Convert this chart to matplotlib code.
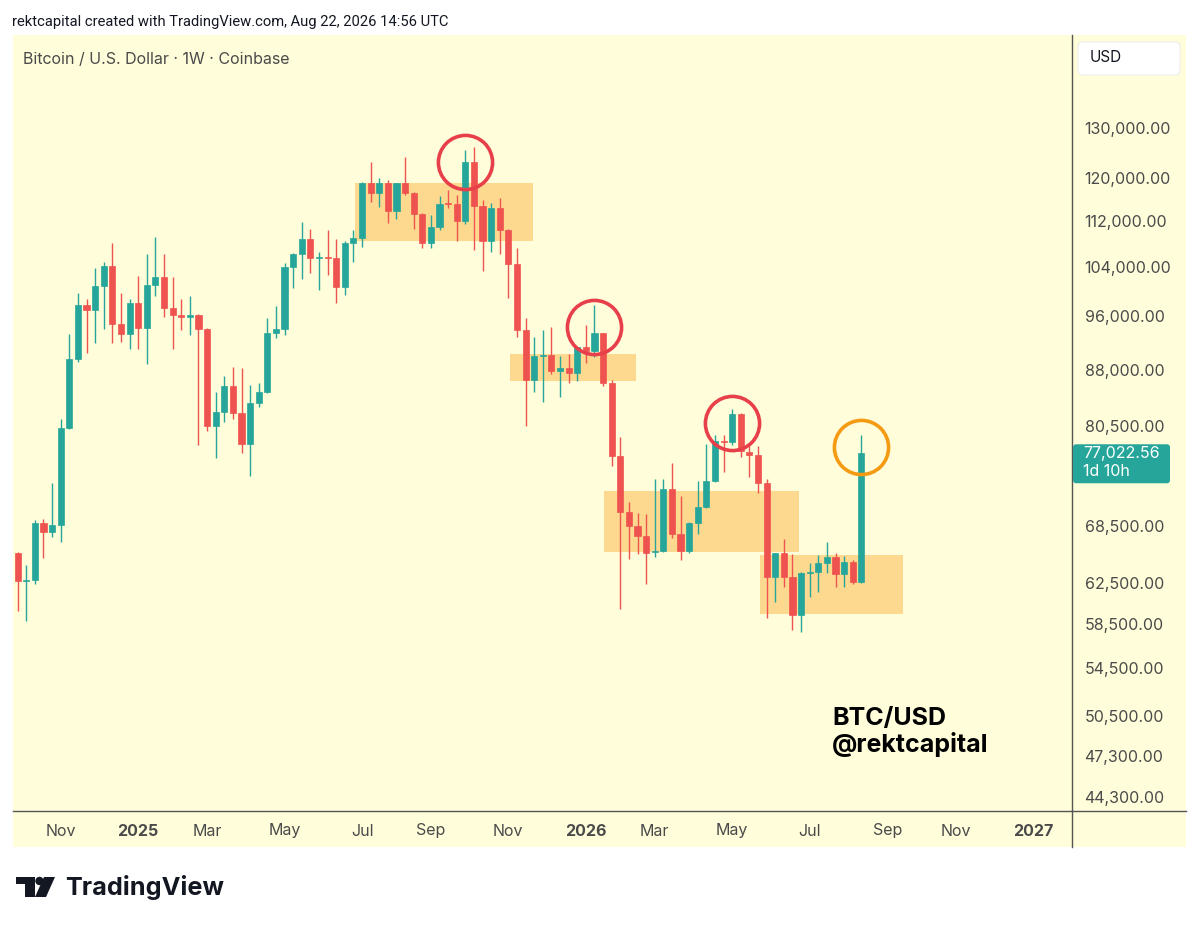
import matplotlib
matplotlib.use('Agg')
import matplotlib.pyplot as plt
import matplotlib.dates as mdates
import matplotlib.ticker as mticker
import matplotlib.transforms as mtransforms
from matplotlib.patches import Rectangle, FancyBboxPatch, Polygon, Circle
from matplotlib.lines import Line2D
import pandas as pd
import numpy as np

plt.rcParams['font.family'] = ['Inter', 'DejaVu Sans']

# ---------------- data ----------------
dates = pd.date_range('2024-09-30', periods=99, freq='7D')

opens = [65600, 62750, 62850, 68850, 67860, 68630, 80220, 89640, 97780, 96990,
         100820, 104110, 94840, 93320, 98100, 94230, 100980, 102290, 97310, 96220,
         95950, 96150, 94070, 80480, 82310, 85830, 82180, 78180, 83510, 85000,
         93470, 94070, 103950, 106140, 108730, 105460, 105560, 105400, 100650, 108040,
         108910, 118930, 117040, 119050, 113800, 118930, 117150, 113150, 107980, 110800,
         115290, 115030, 111980, 123140, 114660, 108440, 114240, 110320, 104450, 93920,
         86660, 90070, 90220, 87970, 88390, 87690, 91340, 90850, 93430, 86290,
         76690, 70110, 68550, 67420, 65680, 65810, 72680, 67640, 65850, 68820,
         70610, 73660, 78560, 78390, 82050, 77220, 76810, 73460, 63150, 65570,
         63090, 59370, 63500, 63660, 64590, 65210, 63390, 64690, 62640]
highs = [65700, 64350, 69200, 69300, 73430, 81390, 93320, 99690, 98720, 103770,
         104790, 108040, 99690, 98720, 102450, 106140, 109090, 106140, 102290, 98720,
         99210, 96400, 94230, 85000, 87220, 88500, 88350, 85970, 86250, 95750,
         97620, 104620, 106320, 111750, 110500, 106490, 110320, 108730, 108390, 110320,
         119240, 123020, 120010, 119560, 119000, 124140, 117340, 113330, 113020, 116530,
         117660, 116720, 125480, 126020, 115780, 115160, 116100, 110440, 107120, 95700,
         92920, 93920, 94420, 90070, 90370, 91430, 94680, 97780, 93520, 86660,
         79100, 71250, 69930, 69850, 73900, 73900, 75780, 71910, 68990, 73700,
         78180, 79320, 79320, 82670, 82220, 77930, 77930, 73860, 65600, 67060,
         65500, 63660, 64520, 65390, 66810, 65570, 65290, 64870, 79320]
lows = [59800, 58800, 62400, 65080, 67310, 66770, 80100, 89210, 90510, 91980,
        94070, 91980, 92120, 91090, 91090, 88920, 99210, 95910, 91090, 93920,
        93170, 78060, 79830, 76440, 81000, 81390, 77060, 74260, 82980, 84900,
        92720, 93170, 100490, 101960, 102950, 100170, 102620, 98100, 99370, 104790,
        107290, 115460, 114540, 111620, 112350, 116720, 110440, 107120, 107120, 110320,
        114240, 108390, 111390, 106830, 103330, 106540, 106140, 98840, 92920, 80480,
        85050, 83690, 87460, 84280, 86200, 86560, 89020, 89880, 85830, 75450,
        59920, 64970, 65500, 62410, 65210, 65700, 67180, 64870, 65570, 67640,
        70490, 73600, 74770, 78060, 76600, 74100, 72290, 59060, 60660, 62080,
        57960, 57740, 61160, 61640, 63500, 62140, 62080, 62410, 62540]
closes = [62750, 62850, 68850, 67860, 68630, 80220, 89640, 97780, 96990, 100820,
          104110, 94840, 93320, 98100, 94230, 100980, 102290, 97310, 96220, 95910,
          96150, 94070, 80480, 82310, 85830, 82180, 78180, 83510, 85000, 93470,
          94070, 103950, 106140, 108730, 105460, 105560, 105400, 100650, 108040, 108910,
          118930, 117040, 119050, 113800, 118930, 117150, 113150, 107980, 110800, 114980,
          115030, 111980, 123140, 114660, 108440, 114240, 110320, 104450, 93920, 86660,
          90070, 90220, 87970, 88390, 87690, 91340, 90850, 93430, 86290, 76690,
          70110, 68550, 67420, 65570, 65810, 72680, 67640, 65850, 68820, 70610,
          73660, 78560, 78390, 82050, 77340, 76810, 73460, 63150, 65570, 63090,
          59370, 63500, 63660, 64590, 65210, 63390, 64690, 62640, 77022.56]

zone_start = ['2025-07-01 07:00', '2025-11-04 07:00', '2026-01-19 19:00', '2026-05-26 14:00']
zone_end = ['2025-11-22 19:00', '2026-02-14 19:00', '2026-06-27 14:00', '2026-09-19 17:00']
zone_low = [108335, 86563, 65677, 59440]
zone_high = [118930, 90366, 72485, 65393]

red_circle_dates = ['2025-09-29 00:00', '2026-01-11 14:00', '2026-05-04 00:00']
red_circle_prices = [123020, 94420, 80830]
orange_circle_dates = ['2026-08-17 00:00']
orange_circle_prices = [77840]

ytick_values = [44300, 47300, 50500, 54500, 58500, 62500, 68500, 80500,
                88000, 96000, 104000, 112000, 120000, 130000]
xtick_dates = ['2024-11-04', '2025-01-06', '2025-03-03', '2025-05-05', '2025-07-07',
               '2025-09-01', '2025-11-03', '2026-01-05', '2026-03-02', '2026-05-04',
               '2026-07-06', '2026-09-07', '2026-11-02', '2027-01-04']
xtick_labels = ['Nov', '2025', 'Mar', 'May', 'Jul', 'Sep', 'Nov', '2026', 'Mar', 'May',
                'Jul', 'Sep', 'Nov', '2027']

# ---------------- styles ----------------
BG = '#FFFDDA'
ZONE = '#FCD98F'
TEAL = '#26A69A'
RED = '#EF5350'
CIRC_RED = '#E8404A'
CIRC_ORANGE = '#F49B13'
AXIS_TXT = '#4a4a4a'
LINE = '#555555'

W, H = 1199, 927
fig = plt.figure(figsize=(W / 100, H / 100), dpi=100, facecolor='white')


def fx(x):
    return x / W


def fy(y):
    return 1 - y / H


def tnum(strings):
    return mdates.date2num(pd.to_datetime(strings, format='mixed'))


ident = mtransforms.IdentityTransform()

# background panel
fig.add_artist(Rectangle((fx(13), fy(847)), fx(1186) - fx(13), fy(35) - fy(847),
                         transform=fig.transFigure, facecolor=BG, edgecolor='none', zorder=0))

ax = fig.add_axes([fx(13), fy(811), fx(1072) - fx(13), fy(35) - fy(811)])
ax.set_facecolor(BG)
for s in ['top', 'left']:
    ax.spines[s].set_visible(False)
for s in ['bottom', 'right']:
    ax.spines[s].set_color(LINE)
    ax.spines[s].set_linewidth(1.0)

fig.add_artist(Line2D([fx(1072), fx(1186)], [fy(811), fy(811)], transform=fig.transFigure,
                      color=LINE, lw=1.0))
fig.add_artist(Line2D([fx(1072), fx(1072)], [fy(811), fy(847)], transform=fig.transFigure,
                      color=LINE, lw=1.0))

# zones
zs = tnum(zone_start)
ze = tnum(zone_end)
for s, e, lo, hi in zip(zs, ze, zone_low, zone_high):
    ax.add_patch(Rectangle((s, lo), e - s, hi - lo, facecolor=ZONE,
                           edgecolor='none', zorder=2))

# candles
xd = mdates.date2num(dates)
O = np.array(opens, dtype=float)
Hh = np.array(highs, dtype=float)
L = np.array(lows, dtype=float)
C = np.array(closes, dtype=float)
cols = np.where(C >= O, TEAL, RED)
ax.vlines(xd, L, Hh, colors=cols, lw=1.0, zorder=3)
ax.bar(xd, np.abs(C - O), bottom=np.minimum(O, C), width=5.0, color=cols,
       edgecolor=cols, linewidth=0.5, zorder=4)

# circles
ax.plot(tnum(red_circle_dates), red_circle_prices, 'o',
        ms=39, mfc='none', mec=CIRC_RED, mew=2.6, zorder=6)
ax.plot(tnum(orange_circle_dates), orange_circle_prices, 'o',
        ms=39, mfc='none', mec=CIRC_ORANGE, mew=2.6, zorder=6)

# axes scales
ax.set_yscale('log')
ax.set_ylim(43312, 150985)
ax.set_xlim(mdates.date2num(dates[0] - pd.Timedelta(days=3.8)),
            mdates.date2num(dates[-1] + pd.Timedelta(days=171.3)))
ax.yaxis.set_major_locator(mticker.FixedLocator(ytick_values))
ax.yaxis.set_minor_locator(mticker.NullLocator())
ax.yaxis.set_major_formatter(mticker.FuncFormatter(lambda v, p: f'{v:,.2f}'))
ax.yaxis.tick_right()
ax.tick_params(axis='y', length=0, pad=9, labelsize=11.5, labelcolor=AXIS_TXT)

ax.set_xticks(tnum(xtick_dates))
ax.set_xticklabels(xtick_labels)
ax.tick_params(axis='x', length=0, pad=9, labelsize=11.5, labelcolor=AXIS_TXT)
for lbl in ax.get_xticklabels():
    if lbl.get_text().isdigit():
        lbl.set_fontweight('bold')

# last price label, anchored to the last close through the axes transform
_, py = ax.transData.transform((xd[-1], closes[-1]))
fig.add_artist(FancyBboxPatch((1073, py - 30), 97, 39, boxstyle='round,pad=0,rounding_size=3',
                              transform=ident, facecolor=TEAL, edgecolor='none', zorder=10))
fig.text(1083 / W, py / H, f'{closes[-1]:,.2f}', ha='left', va='center', fontsize=11.5,
         color='white', zorder=11)
fig.text(1083 / W, (py - 18) / H, '1d 10h', ha='left', va='center', fontsize=11.5,
         color='white', zorder=11)

# USD box
fig.add_artist(FancyBboxPatch((1078, H - 75), 102, 33, boxstyle='round,pad=0,rounding_size=5',
                              transform=ident, facecolor='white', edgecolor='#eeeeee', lw=0.8))
fig.text(fx(1090), fy(58), 'USD', ha='left', va='center', fontsize=11, color='#131722')

# header texts
fig.text(fx(12), fy(22), 'rektcapital created with TradingView.com, Aug 22, 2026 14:56 UTC',
         ha='left', va='center', fontsize=10.6, color='#131722', family=['Roboto', 'DejaVu Sans'])
fig.text(fx(23), fy(59), 'Bitcoin / U.S. Dollar · 1W · Coinbase', ha='left', va='center',
         fontsize=11.5, color=AXIS_TXT)

# watermark
fig.text(fx(832), fy(707), 'BTC/USD\n@rektcapital', ha='left', va='top', fontsize=18,
         fontweight='bold', color='#000000', linespacing=1.1)

# TradingView logo
logo_col = '#131722'
T_shape = [(16, 877), (35, 877), (35, 897), (25, 897), (25, 884), (16, 884)]
fig.add_artist(Polygon([(fx(a), fy(b)) for a, b in T_shape], closed=True,
                       transform=fig.transFigure, facecolor=logo_col, edgecolor='none'))
slash = [(44, 877), (55, 877), (46, 897), (35, 897)]
fig.add_artist(Polygon([(fx(a), fy(b)) for a, b in slash], closed=True,
                       transform=fig.transFigure, facecolor=logo_col, edgecolor='none'))
fig.add_artist(Circle((39.5, H - 881), 4.2, transform=ident, facecolor=logo_col,
                      edgecolor='none'))
fig.text(fx(65), fy(887), 'TradingView', ha='left', va='center', fontsize=18.2,
         fontweight='bold', color=logo_col)

fig.savefig('out.png', dpi=100, facecolor='white')
